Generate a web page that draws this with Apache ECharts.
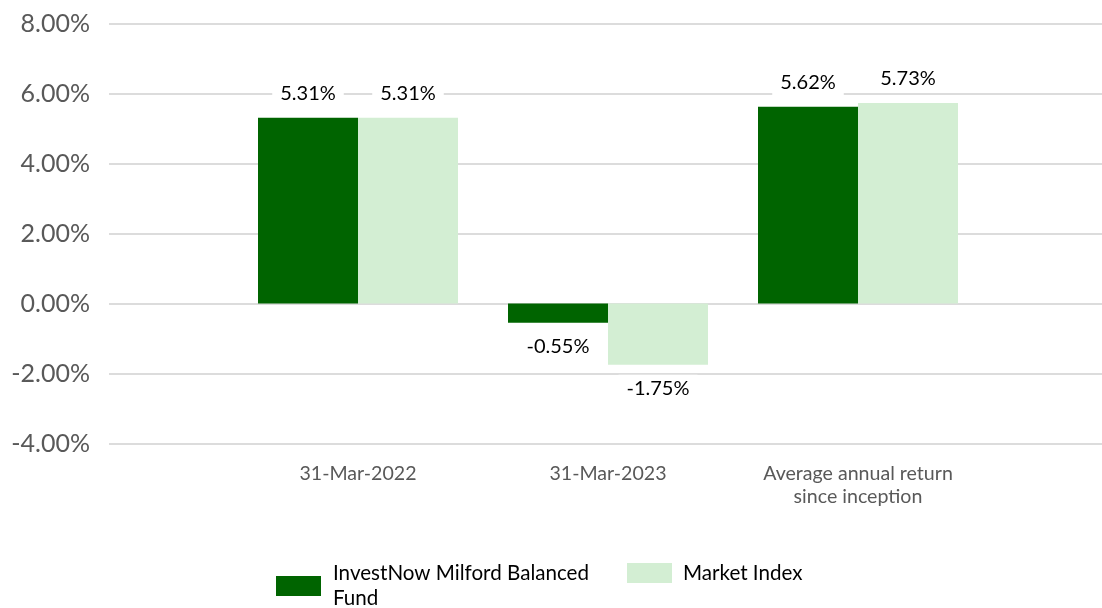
<!DOCTYPE html>
<html>
<head>
<meta charset="utf-8">
<style>
  html, body { margin: 0; padding: 0; background: #fff; }
  #chart { width: 1102px; height: 608px; }
</style>
<script src="https://cdn.jsdelivr.net/npm/echarts@6/dist/echarts.min.js"></script>
</head>
<body>
<div id="chart"></div>
<script>
const categories = ["31-Mar-2022", "31-Mar-2023", "Average annual return\nsince inception"];
const fundName = "InvestNow Milford Balanced Fund";
const indexName = "Market Index";
const fundValues = [5.31, -0.55, 5.62];
const indexValues = [5.31, -1.75, 5.73];
const yMin = -4;
const yMax = 8;
const yStep = 2;

const font = "Lato, 'Noto Sans', sans-serif";
const pct = v => Number(v).toFixed(2) + "%";

// labels above positive bars, below negative ones
function withLabels(values) {
  return values.map(v => ({
    value: v,
    label: { position: v < 0 ? "bottom" : "top" }
  }));
}

const barLabel = {
  show: true,
  distance: 10,
  formatter: p => pct(p.value),
  color: "#000",
  fontFamily: font,
  fontSize: 20,
  lineHeight: 20,
  backgroundColor: "#fff",
  padding: [4, 8]
};

const chart = echarts.init(document.getElementById("chart"), null, { renderer: "canvas" });

chart.setOption({
  animation: false,
  textStyle: { fontFamily: font },
  // grid 0 carries the full-width gridlines and y labels, grid 1 the bars
  grid: [
    { left: 109, right: 0, top: 23.5, bottom: 164.5 },
    { left: 233, right: 119, top: 23.5, bottom: 164.5 }
  ],
  legend: [
    {
      data: [fundName],
      left: 276,
      top: 561,
      padding: 0,
      icon: "rect",
      itemWidth: 45,
      itemHeight: 20,
      formatter: () => "InvestNow Milford Balanced\nFund",
      textStyle: { color: "#000", fontSize: 20.6, lineHeight: 25, fontFamily: font, padding: [0, 0, 0, 7] }
    },
    {
      data: [indexName],
      left: 627,
      top: 560.5,
      padding: 0,
      icon: "rect",
      itemWidth: 45,
      itemHeight: 20,
      textStyle: { color: "#000", fontSize: 20.6, lineHeight: 25, fontFamily: font, padding: [0, 0, 0, 6] }
    }
  ],
  xAxis: [
    { type: "value", gridIndex: 0, show: false, min: 0, max: 1 },
    {
      type: "category",
      gridIndex: 1,
      data: categories,
      axisLine: { show: false, onZero: false },
      axisTick: { show: false },
      axisLabel: {
        margin: 19,
        color: "#595959",
        fontSize: 19.6,
        lineHeight: 23,
        fontFamily: font,
        interval: 0
      }
    }
  ],
  yAxis: [
    {
      type: "value",
      gridIndex: 0,
      min: yMin,
      max: yMax,
      interval: yStep,
      axisLine: { show: false },
      axisTick: { show: false },
      axisLabel: {
        margin: 19,
        color: "#595959",
        fontSize: 25,
        fontFamily: font,
        formatter: v => pct(v)
      },
      splitLine: { lineStyle: { color: "#dcdcdc", width: 2 } }
    },
    {
      type: "value",
      gridIndex: 1,
      min: yMin,
      max: yMax,
      interval: yStep,
      show: false,
      splitLine: { show: false }
    }
  ],
  series: [
    {
      name: fundName,
      type: "bar",
      xAxisIndex: 1,
      yAxisIndex: 1,
      barGap: "0%",
      barCategoryGap: "20%",
      itemStyle: { color: "#006400" },
      label: barLabel,
      data: withLabels(fundValues)
    },
    {
      name: indexName,
      type: "bar",
      xAxisIndex: 1,
      yAxisIndex: 1,
      barGap: "0%",
      barCategoryGap: "20%",
      itemStyle: { color: "#d3eed3" },
      label: barLabel,
      data: withLabels(indexValues)
    }
  ]
});
</script>
</body>
</html>
